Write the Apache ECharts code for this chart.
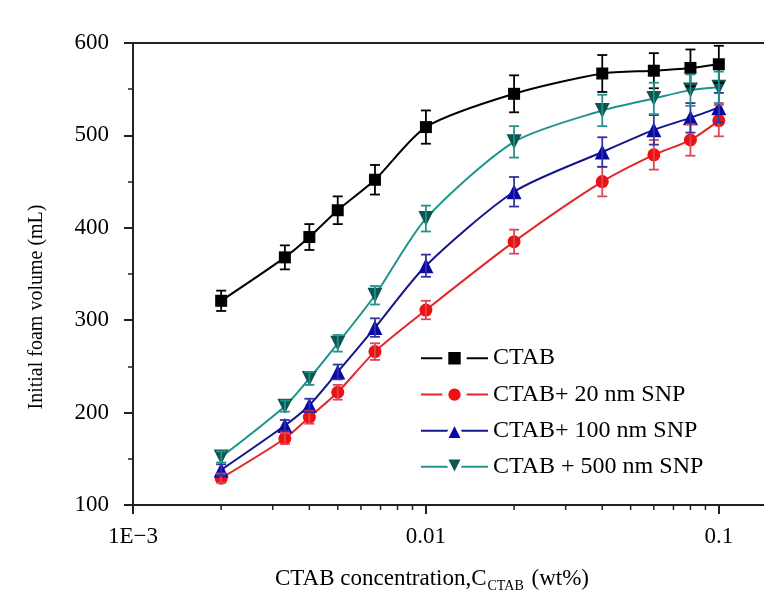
<!DOCTYPE html>
<html><head><meta charset="utf-8">
<script src="https://cdn.jsdelivr.net/npm/echarts@6/dist/echarts.min.js"></script>
<style>html,body{margin:0;padding:0;background:#fff}#c{width:764px;height:607px}</style>
</head><body><div id="c"></div>
<script>
// ---- data ----
const concentrations = [0.002, 0.0033, 0.004, 0.005, 0.0067, 0.01, 0.02, 0.04, 0.06, 0.08, 0.1];
const seriesNames = ['CTAB', 'CTAB+ 20 nm SNP', 'CTAB+ 100 nm SNP', 'CTAB + 500 nm SNP'];
const ctab      = [321, 368, 390, 419, 452, 509, 545, 567, 570, 573, 577];
const ctabErr   = [11, 13, 14, 15, 16, 18, 20, 20, 19, 20, 20];
const snp20     = [129, 172, 195, 222, 266, 311, 385, 450, 479, 495, 516];
const snp20Err  = [5, 6, 7, 8, 9, 10, 13, 16, 16, 17, 17];
const snp100    = [138, 186, 208, 244, 292, 359, 439, 482, 506, 519, 530];
const snp100Err = [6, 6, 7, 8, 10, 12, 16, 16, 16, 16, 16];
const snp500    = [152, 207, 237, 275, 327, 410, 493, 527, 540, 549, 552];
const snp500Err = [6, 6, 7, 9, 10, 14, 17, 17, 17, 17, 17];
const xTickValues = [0.001, 0.01, 0.1];
const xTickLabels = ['1E\u22123', '0.01', '0.1'];
const xMinorTickValues = [0.002, 0.003, 0.004, 0.005, 0.006, 0.007, 0.008, 0.009,
                          0.02, 0.03, 0.04, 0.05, 0.06, 0.07, 0.08, 0.09];
const yMin = 100, yMax = 600, yStep = 100;
const xMin = 0.001, xMax = 0.2;

// ---- chart ----
const FONT = '"Liberation Serif", "DejaVu Serif", serif';
const AXIS = '#222';
const chart = echarts.init(document.getElementById('c'), null, {renderer: 'canvas'});

function pairs(vals) { return concentrations.map((c, i) => [c, vals[i]]); }
function errData(vals, errs) { return concentrations.map((c, i) => [c, vals[i] - errs[i], vals[i] + errs[i]]); }
function errSeries(vals, errs, color) {
  return {
    type: 'custom', silent: true, z: 5, data: errData(vals, errs), encode: {x: 0, y: [1, 2]},
    renderItem(params, api) {
      const x = api.value(0), lo = api.value(1), hi = api.value(2);
      const a = api.coord([x, lo]), b = api.coord([x, hi]);
      const w = 5;
      const st = {stroke: color, lineWidth: 1.8};
      return {type: 'group', children: [
        {type: 'line', shape: {x1: a[0], y1: a[1], x2: b[0], y2: b[1]}, style: st},
        {type: 'line', shape: {x1: a[0] - w, y1: a[1], x2: a[0] + w, y2: a[1]}, style: st},
        {type: 'line', shape: {x1: b[0] - w, y1: b[1], x2: b[0] + w, y2: b[1]}, style: st}
      ]};
    }
  };
}
function lineSeries(name, vals, symbol, size, lineColor, markColor, rotate) {
  return {
    name, type: 'line', data: pairs(vals), smooth: 0.25,
    symbol, symbolSize: size, symbolRotate: rotate || 0, z: 4,
    lineStyle: {color: lineColor, width: 2},
    itemStyle: {color: markColor}
  };
}

const option = {
  backgroundColor: '#fff',
  animation: false,
  grid: {left: 133, top: 43, right: -43, bottom: 102, show: true, borderColor: AXIS, borderWidth: 2,
         outerBoundsMode: 'none', containLabel: false},
  legend: {
    data: [
      {name: seriesNames[0]},
      {name: seriesNames[1]},
      {name: seriesNames[2], itemStyle: {borderWidth: 4}},
      {name: seriesNames[3], itemStyle: {borderWidth: 4}}
    ],
    orient: 'vertical', left: 415, top: 341, itemGap: 12,
    itemWidth: 67, itemHeight: 23,
    itemStyle: {borderColor: '#fff', borderWidth: 6, borderJoin: 'round'},
    textStyle: {fontFamily: FONT, fontSize: 24, color: '#000'}
  },
  xAxis: {
    type: 'log', logBase: 10, min: xMin, max: xMax,
    axisLine: {show: true, lineStyle: {color: AXIS, width: 2}},
    axisTick: {show: true, inside: false, length: 9, lineStyle: {color: AXIS, width: 2}},
    splitLine: {show: false},
    axisLabel: {
      margin: 20, fontSize: 23, fontFamily: FONT, color: '#000',
      formatter: v => {
        const i = xTickValues.findIndex(t => Math.abs(Math.log10(v) - Math.log10(t)) < 1e-6);
        return i >= 0 ? xTickLabels[i] : '';
      }
    },
    name: '{m|CTAB concentration,C}{s|CTAB}{m| (wt%)}',
    nameLocation: 'middle', nameGap: 60,
    nameTextStyle: {
      padding: [0, 76, 0, 0],
      rich: {
        m: {fontSize: 23, fontFamily: FONT, color: '#000', lineHeight: 28},
        s: {fontSize: 14, fontFamily: FONT, color: '#000', lineHeight: 14, verticalAlign: 'bottom', padding: [0, 2, 0, 1]}
      }
    }
  },
  yAxis: {
    type: 'value', min: yMin, max: yMax, interval: yStep,
    axisLine: {show: true, lineStyle: {color: AXIS, width: 2}},
    axisTick: {show: true, inside: false, length: 9, lineStyle: {color: AXIS, width: 2}},
    minorTick: {show: true, splitNumber: 2, length: 5, lineStyle: {color: AXIS, width: 1.5}},
    splitLine: {show: false},
    axisLabel: {margin: 24, fontSize: 23, fontFamily: FONT, color: '#000'},
    name: 'Initial foam volume (mL)', nameLocation: 'middle', nameGap: 86,
    nameTextStyle: {fontSize: 20, fontFamily: FONT, color: '#000', padding: [0, 66, 0, 0]}
  },
  series: [
    {
      type: 'custom', silent: true, clip: false, z: 6,
      data: xMinorTickValues.map(v => [v, yMin]), encode: {x: 0, y: 1},
      renderItem(params, api) {
        const p = api.coord([api.value(0), api.value(1)]);
        return {type: 'line', shape: {x1: p[0], y1: p[1], x2: p[0], y2: p[1] + 5}, style: {stroke: AXIS, lineWidth: 1.5}};
      }
    },
    lineSeries(seriesNames[0], ctab, 'rect', 12, '#000000', '#000000'),
    lineSeries(seriesNames[1], snp20, 'circle', 13, '#e3262a', '#ee1111'),
    lineSeries(seriesNames[2], snp100, 'triangle', 15, '#14148c', '#0808a8'),
    lineSeries(seriesNames[3], snp500, 'triangle', 15, '#1e958c', '#0b5650', 180),
    errSeries(ctab, ctabErr, '#000000'),
    errSeries(snp20, snp20Err, '#d8475a'),
    errSeries(snp100, snp100Err, '#3434a0'),
    errSeries(snp500, snp500Err, '#24928a')
  ]
};
chart.setOption(option);
</script>
</body></html>
